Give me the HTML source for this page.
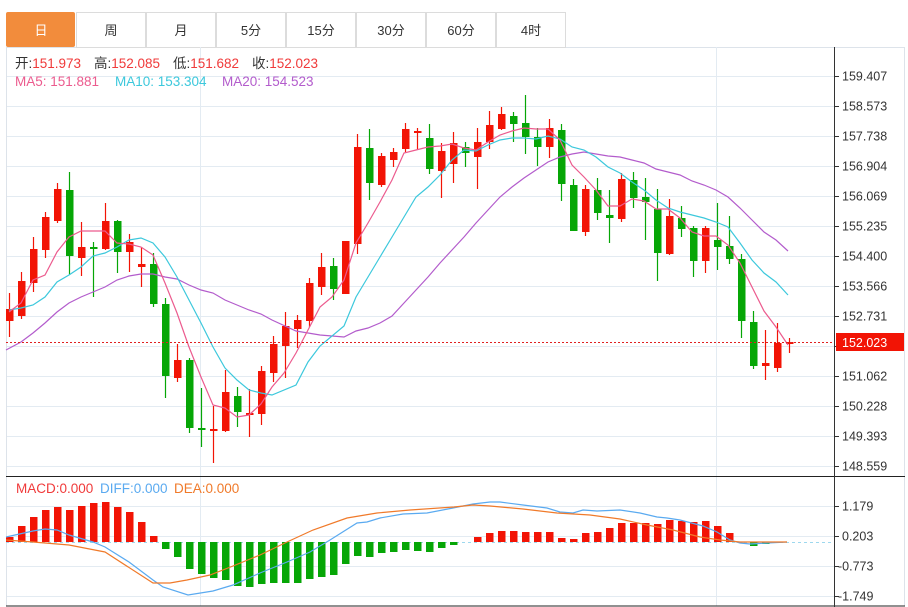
<!DOCTYPE html>
<html><head><meta charset="utf-8"><style>
body{margin:0;background:#fff;width:908px;height:607px;overflow:hidden;font-family:"Liberation Sans","Noto Sans CJK SC",sans-serif}
svg{position:absolute;left:0;top:0}
</style></head><body>
<svg id="s" width="908" height="607" xmlns="http://www.w3.org/2000/svg" font-family="Liberation Sans, Noto Sans CJK SC, sans-serif"></svg>
<script>
const s=document.getElementById('s');let h='';
const tabs=['日','周','月','5分','15分','30分','60分','4时'];
h+='<line x1="6" y1="47.5" x2="904" y2="47.5" stroke="#dde3ea"/>';
tabs.forEach((t,i)=>{const x=6+i*70;
 if(i==0)h+=`<rect x="${x}" y="12" width="69" height="35" rx="2" fill="#f28c3c"/>`;
 else h+=`<rect x="${x+0.5}" y="12.5" width="69" height="35" fill="#fff" stroke="#dcdcdc"/>`;
 h+=`<text x="${x+35}" y="35" font-size="13" text-anchor="middle" fill="${i==0?'#fff':'#333'}">${t}</text>`;});
for(let y=76;y<=466;y+=30)h+=`<line x1="6" x2="834" y1="${y+.5}" y2="${y+.5}" stroke="#e3ebf2"/>`;
for(let y=506;y<=596;y+=30)h+=`<line x1="6" x2="834" y1="${y+.5}" y2="${y+.5}" stroke="#e3ebf2"/>`;
[200,716].forEach(x=>h+=`<line x1="${x+.5}" x2="${x+.5}" y1="47" y2="606" stroke="#e3ebf2"/>`);
h+='<line x1="6.5" x2="6.5" y1="47" y2="606" stroke="#dde3ea"/>';
h+='<line x1="904.5" x2="904.5" y1="47" y2="606" stroke="#dde3ea"/>';
h+='<line x1="6" x2="905" y1="476.5" y2="476.5" stroke="#222"/>';
h+='<line x1="6" x2="905" y1="606" y2="606" stroke="#222"/>';
h+='<line x1="834.5" x2="834.5" y1="47" y2="607" stroke="#333"/>';
const pl=['159.407','158.573','157.738','156.904','156.069','155.235','154.400','153.566','152.731','151.897','151.062','150.228','149.393','148.559'];
pl.forEach((t,i)=>{const y=76+i*30;h+=`<line x1="834" x2="839" y1="${y+.5}" y2="${y+.5}" stroke="#333"/>`;if(i!=9)h+=`<text x="842" y="${y+4.5}" font-size="12.5" fill="#333">${t}</text>`;});
['1.179','0.203','-0.773','-1.749'].forEach((t,i)=>{const y=506+i*30;h+=`<line x1="834" x2="839" y1="${y+.5}" y2="${y+.5}" stroke="#333"/>`;h+=`<text x="${t[0]=='-'?838:842}" y="${y+4.5}" font-size="12.5" fill="#333">${t}</text>`;});
const C=[[321,309,293,337],[316,281,272,319],[283,249,237,292],[250,217,212,258],[221,189,183,223],[190,256,172,275],[258,247,222,276],[247,248,242,297],[249,221,203,250],[221,252,220,273],[252,242,234,272],[267,264,247,287],[264,304,253,307],[304,376,298,398],[378,360,344,382],[360,428,358,433],[428,430,388,447],[430,429,406,463],[431,392,370,432],[396,412,387,427],[414,413,389,437],[414,371,366,425],[373,344,336,382],[346,326,312,378],[329,320,315,348],[321,283,278,327],[287,267,253,295],[266,289,258,300],[294,241,241,294],[244,147,134,254],[148,183,129,200],[185,156,153,187],[160,152,148,167],[149,129,123,152],[133,131,128,150],[138,169,124,174],[171,151,143,198],[164,143,132,183],[147,153,142,167],[157,142,128,189],[142,125,111,149],[129,114,107,130],[116,124,112,142],[123,137,95,154],[137,147,128,166],[147,128,119,158],[130,184,124,201],[185,231,179,231],[232,189,185,236],[190,213,178,220],[215,218,190,243],[219,179,173,222],[180,198,172,208],[197,202,178,240],[209,253,189,281],[254,216,199,255],[218,229,206,237],[228,261,226,277],[261,228,226,273],[240,247,203,270],[246,259,216,264],[259,321,254,338],[322,366,311,369],[366,363,330,380],[368,343,323,372],[344,342,338,353]];
C.forEach((c,i)=>{const x=9+12*i;const col=(c[1]<=c[0])?'#f21405':'#06a606';
 const t=Math.min(c[0],c[1]),b=Math.max(c[0],c[1]);
 h+=`<line x1="${x+.5}" x2="${x+.5}" y1="${c[2]}" y2="${c[3]}" stroke="${col}" stroke-width="1.2"/>`;
 h+=`<rect x="${x-3}" y="${t}" width="7.5" height="${Math.max(b-t,2)}" fill="${col}"/>`;});
function pts(a){return a.map(p=>p.join(',')).join(' ')}
const ma5=[[9,312],[21,303],[33,280],[45,275],[57,252],[69,237],[81,231],[93,231],[105,231],[117,243],[129,244],[141,247],[153,255],[165,283],[177,313],[189,347],[201,377],[213,405],[225,408],[237,417],[249,415],[261,404],[272,387],[284,373],[296,353],[308,330],[320,307],[332,297],[344,280],[356,243],[368,223],[380,202],[392,180],[404,153],[416,150],[428,147],[440,146],[452,144],[464,148],[476,150],[488,142],[500,135],[512,131],[524,128],[536,129],[548,129],[560,140],[572,165],[584,177],[596,190],[608,206],[620,206],[632,199],[644,201],[656,209],[668,209],[680,218],[692,232],[704,236],[716,236],[728,245],[740,263],[752,287],[764,311],[776,327],[788,345]];
const ma10=[[9,310],[21,308],[33,305],[45,297],[57,282],[69,275],[81,267],[93,256],[105,253],[117,247],[129,240],[141,238],[153,243],[165,257],[177,277],[189,300],[201,323],[213,347],[225,368],[237,380],[249,390],[261,393],[272,395],[296,385],[308,362],[320,346],[344,326],[356,297],[368,277],[380,257],[392,237],[404,217],[416,197],[428,187],[440,175],[452,160],[464,150],[476,151],[488,145],[500,140],[512,138],[524,138],[536,139],[548,136],[560,139],[572,147],[584,150],[596,157],[608,167],[620,173],[632,182],[644,190],[656,200],[668,208],[680,212],[692,215],[704,218],[716,222],[728,227],[740,243],[752,260],[764,273],[776,282],[788,295]];
const ma20=[[6,350],[21,342],[33,333],[45,323],[57,312],[69,303],[81,297],[93,292],[105,287],[117,280],[129,276],[141,274],[153,274],[165,277],[177,279],[189,285],[201,290],[213,293],[225,300],[237,305],[249,310],[261,314],[272,320],[296,331],[320,335],[344,337],[356,331],[368,328],[380,323],[392,316],[404,303],[416,290],[428,277],[440,263],[452,250],[464,237],[476,223],[488,210],[500,197],[512,187],[524,178],[536,170],[548,162],[560,157],[572,154],[584,152],[596,154],[608,156],[620,157],[632,160],[644,163],[656,169],[668,172],[680,175],[692,181],[704,185],[716,190],[728,197],[740,208],[752,220],[764,232],[776,240],[788,251]];
h+=`<polyline points="${pts(ma20)}" fill="none" stroke="#b35ccc" stroke-width="1.2"/>`;
h+=`<polyline points="${pts(ma10)}" fill="none" stroke="#3cc8dc" stroke-width="1.2"/>`;
h+=`<polyline points="${pts(ma5)}" fill="none" stroke="#ec5b8e" stroke-width="1.2"/>`;
h+='<line x1="6" x2="834" y1="342.5" y2="342.5" stroke="#e02020" stroke-dasharray="2,2"/>';
h+='<rect x="836" y="333" width="68" height="18" fill="#f21405"/><text x="842" y="347" font-size="12.5" fill="#fff">152.023</text>';
h+='<text y="68" font-size="13.5"><tspan x="15" fill="#333">开:</tspan><tspan fill="#f03a3a">151.973</tspan><tspan x="94" fill="#333">高:</tspan><tspan fill="#f03a3a">152.085</tspan><tspan x="173" fill="#333">低:</tspan><tspan fill="#f03a3a">151.682</tspan><tspan x="252" fill="#333">收:</tspan><tspan fill="#f03a3a">152.023</tspan></text>';
h+='<text y="86" font-size="13.5"><tspan x="15" fill="#ec5b8e">MA5: 151.881</tspan><tspan x="115" fill="#3cc8dc">MA10: 153.304</tspan><tspan x="222" fill="#b35ccc">MA20: 154.523</tspan></text>';
h+='<text y="493" font-size="13.5"><tspan x="16" fill="#f03a3a">MACD:0.000</tspan><tspan x="100" fill="#5aaaf0">DIFF:0.000</tspan><tspan x="174" fill="#f07a2a">DEA:0.000</tspan></text>';
h+='<line x1="6" x2="834" y1="542.5" y2="542.5" stroke="#9dd8ee" stroke-dasharray="3,3"/>';
const M=[537,526,517,510,507,510,506,503,502,507,512,522,536,549,557,569,574,578,580,586,587,584,583,583,583,579,577,575,564,556,557,553,552,550,551,552,548,545,542,537,533,531,531,532,532,532,538,539,533,532,528,523,523,523,524,520,521,522,521,526,533,542,546,544,542,542];
M.forEach((v,i)=>{const x=9+12*i;if(v==542)return;const t=Math.min(v,542),b=Math.max(v,542);h+=`<rect x="${x-3}" y="${t}" width="7.5" height="${b-t}" fill="${v<542?'#f21405':'#06a606'}"/>`;});
const diff=[[6,537],[33,531],[45,529],[57,530],[69,535],[93,542],[105,547],[129,562],[153,580],[163,587],[188,595],[213,591],[233,585],[260,573],[287,562],[310,552],[330,540],[357,523],[367,522],[380,518],[403,514],[427,513],[453,508],[473,504],[490,502],[500,502],[523,505],[547,508],[560,512],[573,513],[583,510],[597,511],[620,510],[640,513],[657,517],[667,518],[680,520],[703,526],[717,532],[730,540],[740,543],[750,544],[767,543],[787,542]];
const dea=[[6,540],[33,542],[69,545],[105,552],[153,583],[170,583],[187,580],[210,575],[233,566],[260,555],[287,542],[313,530],[347,518],[377,513],[410,510],[454,507],[473,505],[490,506],[523,509],[557,513],[590,515],[620,519],[647,525],[673,530],[700,537],[720,540],[740,542],[787,542]];
h+=`<polyline points="${pts(diff)}" fill="none" stroke="#5aaaf0" stroke-width="1.2"/>`;
h+=`<polyline points="${pts(dea)}" fill="none" stroke="#f07a2a" stroke-width="1.2"/>`;
s.innerHTML=h;
</script>
</body></html>
